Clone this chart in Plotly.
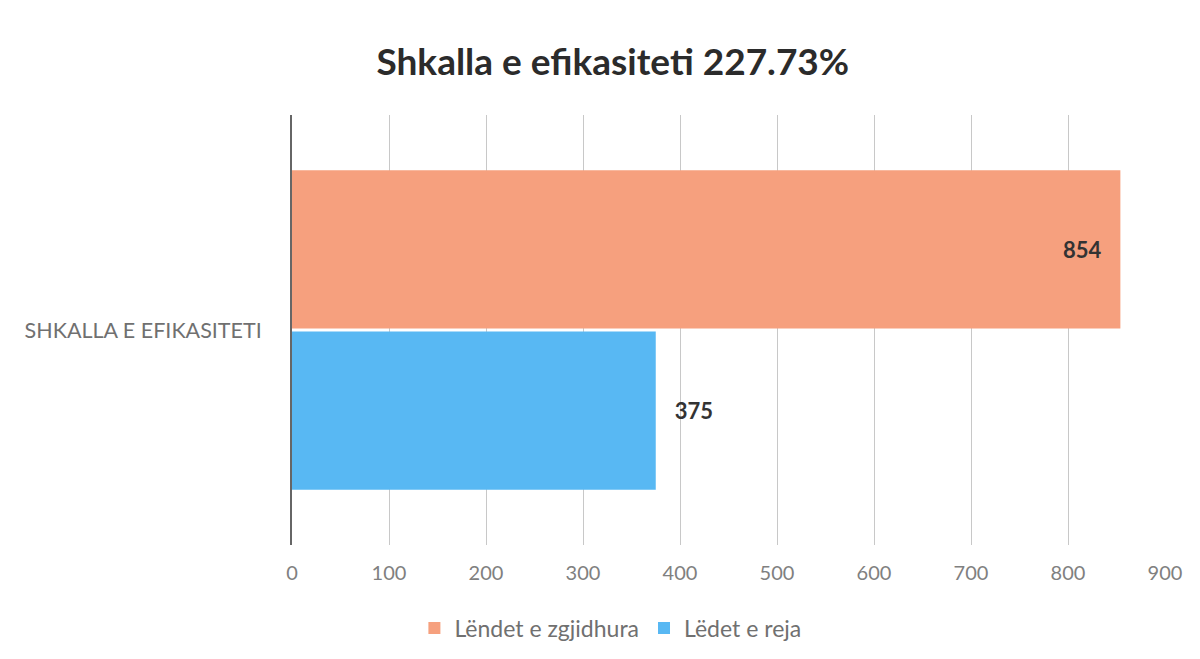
import plotly.graph_objects as go

category = ["SHKALLA E EFIKASITETI"]
series_names = ["Lëndet e zgjidhura", "Lëdet e reja"]
values_zgjidhura = [854]
values_reja = [375]
x_ticks = [0, 100, 200, 300, 400, 500, 600, 700, 800, 900]
title_text = "Shkalla e efikasiteti 227.73%"

orange = "#F6A07E"
blue = "#58B8F3"
font_family = "Lato, 'Open Sans', sans-serif"
pad = "\u00a0\u00a0\u00a0"

fig = go.Figure()
fig.add_trace(go.Bar(
    y=category, x=values_reja, name=series_names[1], orientation="h",
    marker=dict(color=blue, line=dict(width=0)),
    text=[pad + str(v) for v in values_reja], textposition="outside",
    textfont=dict(size=22, color="#333333", family=font_family, weight="bold"),
    legendrank=2, cliponaxis=False,
))
fig.add_trace(go.Bar(
    y=category, x=values_zgjidhura, name=series_names[0], orientation="h",
    marker=dict(color=orange, line=dict(width=0)),
    text=[str(v) + pad for v in values_zgjidhura], textposition="inside",
    insidetextanchor="end",
    textfont=dict(size=22, color="#333333", family=font_family, weight="bold"),
    legendrank=1,
))

fig.update_layout(
    width=1200, height=659,
    paper_bgcolor="white", plot_bgcolor="white",
    barmode="group", bargap=0.25, bargroupgap=0.02,
    margin=dict(l=284, r=43, t=107, b=122, autoexpand=False),
    title=dict(text=title_text, x=0.504, xanchor="center", y=0.918, yref="container",
               yanchor="middle",
               font=dict(size=37, color="#2b2b2b", family=font_family, weight="bold")),
    font=dict(family=font_family, color="#7a7a7a"),
    xaxis=dict(range=[0, 900], tickvals=x_ticks, showgrid=True, gridcolor="#c8c8c8",
               gridwidth=1, zeroline=False, showline=False, automargin=False,
               tickfont=dict(size=20, color="#808080"), ticks="", ticklabelstandoff=14),
    yaxis=dict(showline=True, linecolor="#666666", linewidth=2, showgrid=False,
               automargin=False,
               tickfont=dict(size=21.5, color="#707070"), ticks="", ticklabelstandoff=24),
    legend=dict(orientation="h", x=0.502, xanchor="center", xref="container",
                y=0.059, yref="container", yanchor="middle",
                font=dict(size=23, color="#707070"), itemwidth=30),
    showlegend=True,
)

fig.write_html("out.html")
